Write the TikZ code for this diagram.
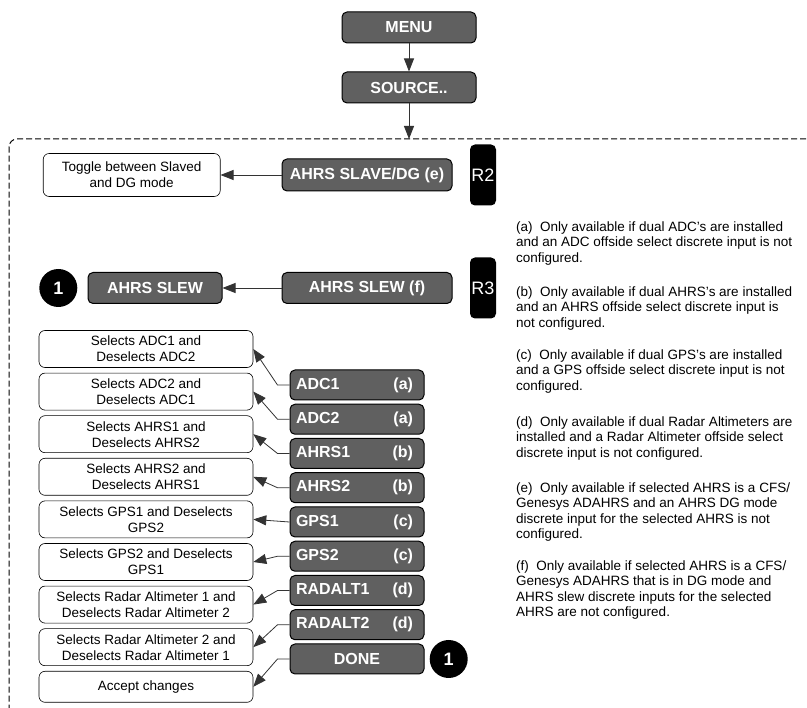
\documentclass[tikz,border=0pt]{standalone}
\usepackage{fontspec}
\setmainfont{Liberation Sans}
\usetikzlibrary{positioning,arrows.meta}
\definecolor{btngray}{RGB}{96,96,96}
\newcommand{\selrow}[2]{\makebox[122pt][l]{#1\hfill#2\hspace*{5pt}}}

\begin{document}
\begin{tikzpicture}[x=1pt, y=-1pt,
  btn/.style  ={draw=black, line width=1pt, fill=btngray, rounded corners=5pt,
                text=white, font=\fontsize{16}{19}\selectfont\bfseries,
                minimum width=134pt, minimum height=31pt, inner sep=0pt},
  wide/.style ={btn, minimum width=170pt, minimum height=32pt},
  sel/.style  ={btn, minimum height=30pt},
  desc/.style ={draw=black, line width=0.6pt, fill=white, rounded corners=6pt,
                font=\fontsize{13.5}{16}\selectfont, align=center,
                minimum width=214pt, minimum height=37pt, inner sep=0pt},
  tab/.style  ={fill=black, rounded corners=5pt, text=white,
                font=\fontsize{18}{20}\selectfont,
                minimum width=26pt, minimum height=61pt, inner sep=0pt},
  badge/.style={circle, fill=black, text=white,
                font=\fontsize{18}{20}\selectfont\bfseries,
                minimum size=38pt, inner sep=0pt},
  note/.style ={anchor=north west, align=left, inner sep=0pt,
                font=\fontsize{13.5}{15.3}\selectfont},
  arr/.style  ={-{Triangle[length=13pt,width=10pt]}, line width=0.8pt,
                draw=black!80},
  node distance=5pt
]
\useasboundingbox (0,0) rectangle (807,708);

\node[btn] (menu) at (409,27.5) {MENU};
\node[btn, below=28pt of menu] (source) {SOURCE..};
\coordinate (frametop) at (409,139);
\draw[arr] (menu) -- (source);
\draw[arr] (source) -- (frametop);

% dashed group frame
\draw[dash pattern=on 6pt off 3pt, line width=1pt, draw=black,
      rounded corners=8pt] (815,139) -- (9,139) -- (9,715);

% R2 row
\node[tab] (rtwo) at (483,175) {R2};
\node[wide] (slavedg) at (367,175) {AHRS SLAVE/DG (e)};
\node[desc, minimum width=177pt, minimum height=43pt, left=61pt of slavedg]
     (toggle) {Toggle between Slaved\\and DG mode};
\draw[arr] (slavedg) -- (toggle);

% R3 row
\node[tab] (rthree) at (483,288) {R3};
\node[wide, minimum height=31pt] (slewf) at (367,288) {AHRS SLEW (f)};
\node[btn, left=59pt of slewf] (slew) {AHRS SLEW};
\node[badge, left=10pt of slew] (goto) {1};
\draw[arr] (slewf) -- (slew);

% selections
\node[sel] (adcone) at (357,385) {\selrow{ADC1}{(a)}};
\node[sel, below=3.25pt of adcone] (adctwo) {\selrow{ADC2}{(a)}};
\node[sel, below=3.25pt of adctwo] (ahrsone) {\selrow{AHRS1}{(b)}};
\node[sel, below=3.25pt of ahrsone] (ahrstwo) {\selrow{AHRS2}{(b)}};
\node[sel, below=3.25pt of ahrstwo] (gpsone) {\selrow{GPS1}{(c)}};
\node[sel, below=3.25pt of gpsone] (gpstwo) {\selrow{GPS2}{(c)}};
\node[sel, below=3.25pt of gpstwo] (radaltone) {\selrow{RADALT1}{(d)}};
\node[sel, below=3.25pt of radaltone] (radalttwo) {\selrow{RADALT2}{(d)}};
\node[sel, below=3.25pt of radalttwo] (done) {DONE};
\node[badge, right=5pt of done] (back) {1};

\node[desc] (dadcone) at (146,349) {Selects ADC1 and\\Deselects ADC2};
\node[desc, below=of dadcone] (dadctwo) {Selects ADC2 and\\Deselects ADC1};
\node[desc, below=of dadctwo] (dahrsone) {Selects AHRS1 and\\Deselects AHRS2};
\node[desc, below=of dahrsone] (dahrstwo) {Selects AHRS2 and\\Deselects AHRS1};
\node[desc, below=of dahrstwo] (dgpsone) {Selects GPS1 and Deselects\\GPS2};
\node[desc, below=of dgpsone] (dgpstwo) {Selects GPS2 and Deselects\\GPS1};
\node[desc, below=of dgpstwo] (draltone)
     {Selects Radar Altimeter 1 and\\Deselects Radar Altimeter 2};
\node[desc, below=of draltone] (dralttwo)
     {Selects Radar Altimeter 2 and\\Deselects Radar Altimeter 1};
\node[desc, minimum height=31pt, below=of dralttwo] (daccept) {Accept changes};

\draw[arr] (adcone.west) -- ++(-12,0) -- (dadcone.east);
\draw[arr] (adctwo.west) -- ++(-12,0) -- (dadctwo.east);
\draw[arr] (ahrsone.west) -- ++(-12,0) -- (dahrsone.east);
\draw[arr] (ahrstwo.west) -- ++(-12,0) -- (dahrstwo.east);
\draw[arr] (gpsone.west) -- (dgpsone.east);
\draw[arr] (gpstwo.west) -- ++(-12,0) -- (dgpstwo.east);
\draw[arr] (radaltone.west) -- ++(-12,0) -- (draltone.east);
\draw[arr] (radalttwo.west) -- ++(-12,0) -- (dralttwo.east);
\draw[arr] (done.west) -- ++(-12,0) -- (daccept.east);

% footnotes
\node[note] (nota) at (516,221.7)
  {(a)\ \ Only available if dual ADC’s are installed\\
   and an ADC offside select discrete input is not\\configured.};
\node[note] (notb) at (516,286.7)
  {(b)\ \ Only available if dual AHRS’s are installed\\
   and an AHRS offside select discrete input is\\not configured.};
\node[note] (notc) at (516,349.7)
  {(c)\ \ Only available if dual GPS’s are installed\\
   and a GPS offside select discrete input is not\\configured.};
\node[note] (notd) at (516,416.7)
  {(d)\ \ Only available if dual Radar Altimeters are\\
   installed and a Radar Altimeter offside select\\
   discrete input is not configured.};
\node[note] (note) at (516,482.7)
  {(e)\ \ Only available if selected AHRS is a CFS/\\
   Genesys ADAHRS and an AHRS DG mode\\
   discrete input for the selected AHRS is not\\configured.};
\node[note] (notf) at (516,560.7)
  {(f)\ \ Only available if selected AHRS is a CFS/\\
   Genesys ADAHRS that is in DG mode and\\
   AHRS slew discrete inputs for the selected\\
   AHRS are not configured.};
\end{tikzpicture}
\end{document}
